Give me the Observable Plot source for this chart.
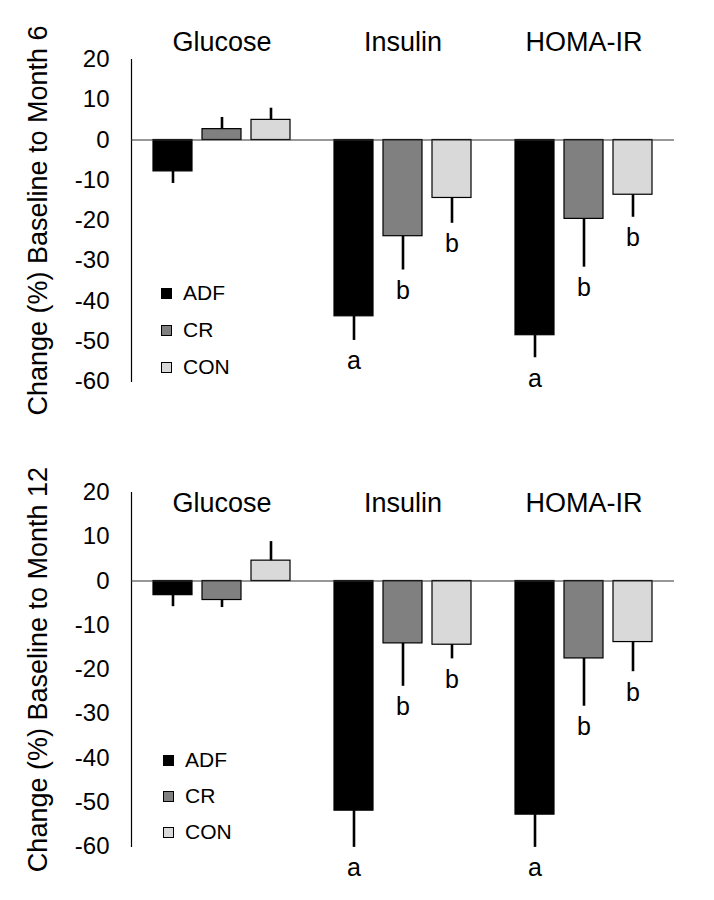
<!DOCTYPE html>
<html><head><meta charset="utf-8">
<script src="https://cdn.jsdelivr.net/npm/d3@7"></script>
<script src="https://cdn.jsdelivr.net/npm/@observablehq/plot@0.6"></script>
<style>
body{margin:0;background:#fff;font-family:"Liberation Sans",Arial,sans-serif;}
#root{position:relative;width:714px;height:900px;overflow:hidden}
.panel{position:absolute;left:0;width:714px;}
.legend{position:absolute;font-size:21px;color:#000;}
.legend .row{position:absolute;left:0;display:flex;align-items:center;white-space:nowrap;height:24px;line-height:24px;}
.sw{box-sizing:border-box;width:11px;height:11px;border:1px solid #000;margin-right:11px;}
</style></head><body><div id="root"></div>
<script>
const metrics = ["Glucose", "Insulin", "HOMA-IR"];
const groups = ["ADF", "CR", "CON"];
const groupColors = ["#000000", "#808080", "#d9d9d9"];
const yTicks = [20, 10, 0, -10, -20, -30, -40, -50, -60];

// Baseline to Month 6 (mean % change and error bar length), per metric
const m6ADF = [-7.8, -43.8, -48.5];
const m6CR = [2.7, -23.9, -19.6];
const m6CON = [5.0, -14.4, -13.6];
const m6ADFerr = [3.0, 6.0, 5.6];
const m6CRerr = [2.9, 8.4, 12.0];
const m6CONerr = [2.9, 6.3, 5.6];

// Baseline to Month 12
const m12ADF = [-3.2, -51.9, -52.8];
const m12CR = [-4.3, -14.1, -17.5];
const m12CON = [4.6, -14.4, -13.8];
const m12ADFerr = [2.6, 8.3, 7.4];
const m12CRerr = [1.7, 9.7, 10.8];
const m12CONerr = [4.3, 3.2, 6.7];

// Significance letters
const lettersADF = ["", "a", "a"];
const lettersCR = ["", "b", "b"];
const lettersCON = ["", "b", "b"];

function buildRows(vals, errs) {
  const letters = [lettersADF, lettersCR, lettersCON];
  const rows = [];
  metrics.forEach((m, i) => {
    groups.forEach((g, j) => {
      const v = vals[j][i], e = errs[j][i];
      rows.push({metric: m, group: g, value: v, errEnd: v + Math.sign(v) * e, letter: letters[j][i]});
    });
  });
  return rows;
}

const FONT = '"Liberation Sans", Arial, sans-serif';

function panel(rows, opts) {
  return Plot.plot({
    width: 714,
    height: opts.height,
    marginTop: opts.marginTop,
    marginBottom: opts.marginBottom,
    marginLeft: 130,
    marginRight: 39,
    style: {fontFamily: FONT, color: "#000", background: "#fff", overflow: "visible"},
    fx: {domain: metrics, padding: 0, axis: null},
    x: {domain: groups, paddingInner: 0.2, paddingOuter: 0.42, axis: null},
    y: {domain: [-60, 20]},
    color: {domain: groups, range: groupColors},
    marks: [
      Plot.axisY(yTicks, {tickSize: 0, tickPadding: 22, fontSize: 24, label: null, tickFormat: d => String(d)}),
      Plot.text([opts.label], {fx: () => metrics[0], text: d => d, frameAnchor: "left", rotate: -90, textAnchor: "middle", lineAnchor: "middle", dx: -93, fontSize: 27, fill: "#000"}),
      Plot.frame({anchor: "left", facetAnchor: "left", stroke: "#000", strokeWidth: 1.2}),
      Plot.barY(rows, {fx: "metric", x: "group", y: "value", fill: "group", stroke: "#000", strokeWidth: 1.2}),
      Plot.ruleY([0], {stroke: "#333", strokeWidth: 1.2}),
      Plot.ruleX(rows, {fx: "metric", x: "group", y1: "value", y2: "errEnd", stroke: "#000", strokeWidth: 2.6}),
      Plot.text(rows.filter(d => d.letter), {fx: "metric", x: "group", y: "errEnd", text: "letter", lineAnchor: "bottom", dy: 29, fontSize: 25, fill: "#000"}),
      Plot.text(metrics, {fx: d => d, text: d => d, frameAnchor: "top", lineAnchor: "middle", dy: opts.titleDy, fontSize: 27, fill: "#000"})
    ]
  });
}

function legend(top, left, rowTops) {
  const lg = document.createElement("div");
  lg.className = "legend";
  lg.style.top = top + "px";
  lg.style.left = left + "px";
  groups.forEach((g, i) => {
    const r = document.createElement("div");
    r.className = "row";
    r.style.top = rowTops[i] + "px";
    const sw = document.createElement("div");
    sw.className = "sw";
    sw.style.background = groupColors[i];
    const t = document.createElement("span");
    t.textContent = g;
    r.appendChild(sw); r.appendChild(t);
    lg.appendChild(r);
  });
  return lg;
}

const root = document.getElementById("root");

const p1 = document.createElement("div");
p1.className = "panel"; p1.style.top = "0px";
p1.appendChild(panel(buildRows([m6ADF, m6CR, m6CON], [m6ADFerr, m6CRerr, m6CONerr]),
  {height: 430, marginTop: 59, marginBottom: 49, label: "Change (%) Baseline to Month 6", titleDy: -17}));
p1.appendChild(legend(281, 161, [0, 37, 74]));
root.appendChild(p1);

const p2 = document.createElement("div");
p2.className = "panel"; p2.style.top = "440px";
p2.appendChild(panel(buildRows([m12ADF, m12CR, m12CON], [m12ADFerr, m12CRerr, m12CONerr]),
  {height: 460, marginTop: 52, marginBottom: 54, label: "Change (%) Baseline to Month 12", titleDy: 11}));
p2.appendChild(legend(308, 163, [0, 36, 72]));
root.appendChild(p2);
</script>
</body></html>
